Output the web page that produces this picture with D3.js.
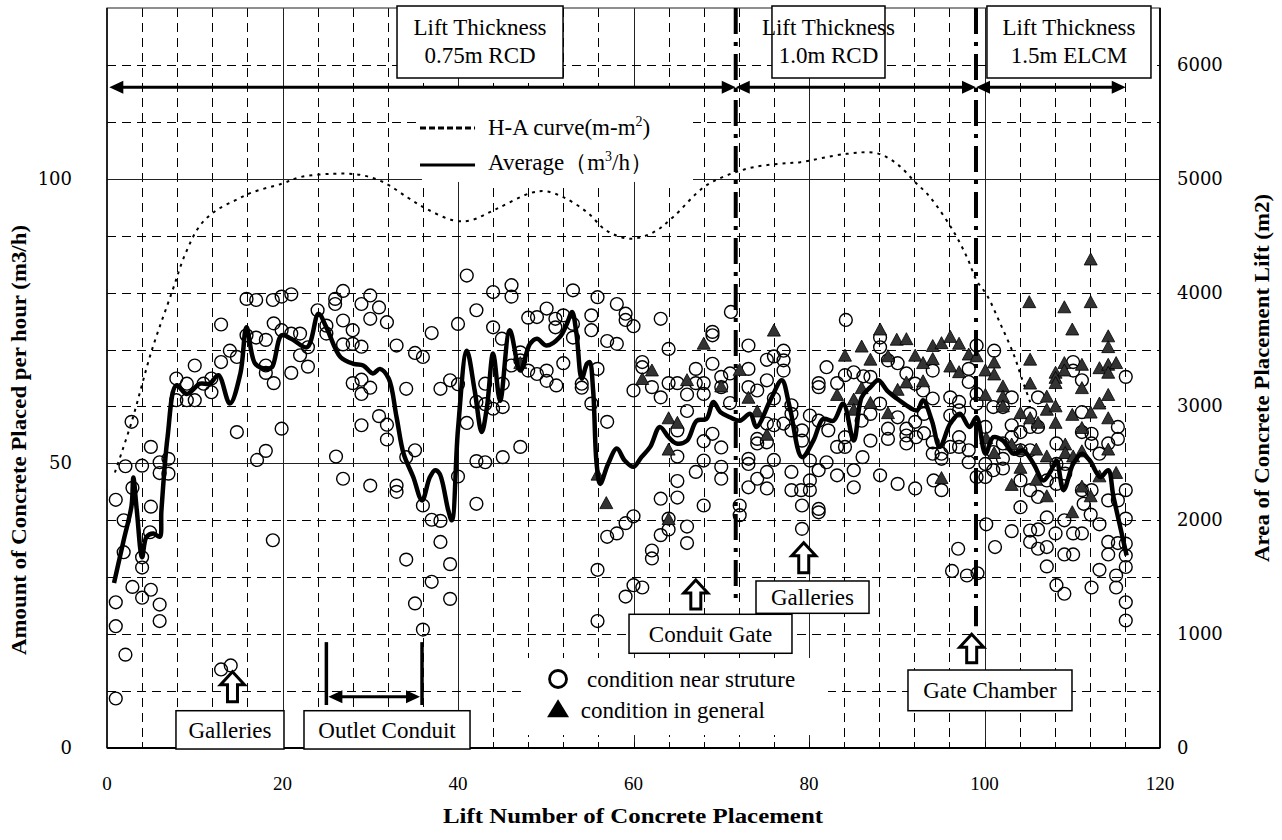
<!DOCTYPE html>
<html><head><meta charset="utf-8">
<script src="https://cdn.jsdelivr.net/npm/d3@7"></script>
<style>body{margin:0;background:#fff}svg{display:block}</style>
</head><body><svg id="c" width="1282" height="840"></svg>
<script>
// ---------- DATA ----------
const xTicks = [0, 20, 40, 60, 80, 100, 120];
const leftTicks = [0, 50, 100];
const rightTicks = [0, 1000, 2000, 3000, 4000, 5000, 6000];

// condition near structure (open circles)
const nearLift = [1.0,1.0,1.0,1.0,1.9,1.9,2.1,2.1,2.8,2.9,2.9,4.0,4.0,4.0,4.0,4.9,5.0,5.0,5.0,6.0,6.0,6.0,6.0,7.0,7.0,7.9,7.9,9.1,9.1,10.0,10.0,11.0,11.9,11.9,13.0,13.0,13.0,14.0,14.1,14.8,14.8,15.9,15.9,17.0,17.0,17.1,18.1,18.1,18.1,18.1,18.9,18.9,19.0,19.0,19.9,19.9,19.9,21.0,21.0,21.0,22.0,22.0,22.9,22.9,24.0,25.0,25.0,26.0,26.0,26.1,26.9,26.9,26.9,26.9,28.0,28.0,28.0,29.0,29.0,29.0,29.0,29.0,30.0,30.0,30.0,30.0,31.0,31.0,31.9,31.9,31.9,33.0,33.0,33.0,34.1,34.1,34.1,35.1,35.1,35.1,36.0,36.0,36.0,37.0,37.0,37.0,38.0,38.0,38.0,39.1,39.1,39.1,40.0,40.0,40.0,41.0,41.0,42.1,42.1,42.1,42.1,43.1,43.1,43.1,44.0,44.0,44.0,45.0,45.1,45.1,45.1,46.1,46.1,46.1,47.1,47.1,47.1,48.0,48.0,49.0,49.0,50.1,50.1,50.1,51.1,51.1,51.2,52.0,52.0,53.1,53.1,53.1,54.1,54.1,55.2,55.2,55.2,55.9,55.9,55.9,55.9,57.0,57.0,57.0,58.1,58.1,58.1,59.1,59.1,59.1,59.1,60.0,60.0,60.0,60.0,61.0,61.0,61.0,62.1,62.1,62.1,63.1,63.1,63.1,63.1,64.0,64.0,64.0,64.0,65.0,65.0,65.0,65.0,65.0,66.1,66.1,66.1,66.1,67.1,67.1,67.1,68.0,68.0,68.0,68.0,68.0,69.0,69.0,69.0,69.0,70.0,70.0,70.0,70.0,70.0,71.0,71.0,71.1,72.1,72.1,73.1,73.1,73.1,73.1,73.1,73.1,74.1,74.1,74.1,74.1,75.2,75.2,75.2,75.2,75.2,75.2,76.0,76.0,76.0,76.0,77.1,77.1,77.1,77.1,78.0,78.0,78.0,78.0,78.0,79.2,79.2,79.2,79.2,79.1,80.1,80.1,80.1,80.1,81.1,81.1,81.1,81.1,81.1,81.1,82.0,82.0,82.2,83.2,83.2,83.2,84.1,84.1,84.1,84.2,85.1,85.1,85.1,86.0,86.1,86.2,87.0,87.0,87.0,88.1,88.1,88.1,88.1,89.0,89.0,89.0,90.1,90.1,90.1,91.1,91.1,91.1,91.1,92.1,92.1,92.1,92.2,93.0,93.1,93.1,94.1,94.1,94.1,94.1,94.2,95.1,95.1,95.1,96.1,96.1,96.1,96.3,97.1,97.1,97.1,97.1,97.0,98.2,98.2,98.2,98.2,98.0,99.1,99.1,99.1,99.1,99.2,100.1,100.1,100.1,100.2,101.0,101.0,101.0,101.1,101.2,102.1,102.1,102.1,102.1,103.1,103.1,103.1,103.1,104.1,104.1,104.1,104.1,105.2,105.2,105.2,105.2,105.2,105.2,106.1,106.1,106.1,106.1,106.1,107.1,107.1,107.1,107.1,108.2,108.2,108.2,108.2,108.1,109.2,109.2,109.1,109.1,109.1,110.1,110.1,110.1,110.1,111.1,111.1,111.1,111.1,111.1,111.3,112.2,112.2,112.2,112.2,112.1,113.1,113.1,113.1,114.1,114.1,114.1,114.1,115.2,115.2,115.2,115.2,115.0,115.0,116.1,116.1,116.1,116.1,116.1,116.1,116.1,116.1];
const nearRate = [43.6,25.6,21.4,8.7,40.0,34.4,49.5,16.4,57.3,45.7,28.3,49.6,33.5,31.7,26.4,37.9,52.9,42.4,27.8,50.2,48.3,25.2,22.3,50.8,48.2,64.9,61.1,64.0,61.1,61.1,67.2,64.0,64.9,62.5,74.4,67.8,13.8,69.8,14.5,68.7,55.5,78.9,72.5,78.7,72.1,50.6,71.7,67.2,65.9,52.2,78.7,36.5,64.1,74.6,79.3,73.4,56.1,79.7,72.8,65.9,72.8,69.0,70.4,67.0,76.9,74.2,72.8,78.9,78.0,51.2,80.3,75.1,70.9,47.3,73.4,71.0,64.1,78.0,70.5,64.7,62.2,56.7,79.5,75.4,63.3,46.1,77.4,58.3,74.8,56.8,54.2,70.7,46.1,45.0,63.1,51.1,33.1,69.4,52.3,25.4,68.7,42.6,20.8,72.9,40.1,29.2,63.1,39.9,36.2,64.6,32.3,26.2,74.5,63.9,47.7,83.0,57.1,76.9,60.8,50.4,42.9,64.0,60.4,50.2,80.1,73.9,59.6,71.9,64.0,59.9,51.1,81.3,79.3,67.2,69.5,68.1,52.9,75.6,66.3,75.7,65.7,77.2,66.3,64.5,75.4,73.9,63.7,76.0,67.6,80.4,74.5,72.1,64.0,63.3,76.0,73.4,60.5,79.2,66.6,31.3,22.3,71.5,57.3,37.1,78.0,71.0,37.7,76.3,75.2,39.5,26.6,74.1,62.8,40.7,28.6,67.8,66.9,28.2,63.4,34.7,33.3,75.4,61.6,43.8,37.4,70.1,64.1,38.4,40.3,64.1,55.8,51.2,46.9,44.0,62.1,59.2,38.9,36.0,66.6,64.1,48.5,64.1,62.2,53.9,50.5,42.6,73.1,72.5,67.5,55.2,65.2,63.4,52.8,49.4,47.3,65.8,60.6,76.6,42.6,40.9,70.7,66.6,63.4,50.8,49.9,45.8,62.8,54.3,53.5,47.3,68.2,64.6,57.0,53.7,48.5,45.6,68.8,61.4,56.7,50.6,69.8,68.1,66.3,57.0,60.2,58.7,55.8,48.5,45.3,55.8,54.0,42.6,38.5,45.3,58.4,50.5,47.0,45.3,64.1,63.4,57.5,48.8,42.0,41.4,66.9,50.2,55.8,64.1,52.9,47.9,65.5,54.6,52.9,75.2,66.0,48.8,45.8,57.5,51.1,65.3,65.2,58.7,54.0,72.1,70.4,60.5,47.9,68.1,56.1,54.3,67.6,58.1,46.4,65.8,56.1,54.9,53.5,64.0,57.3,45.6,54.6,62.8,58.7,55.3,66.3,61.4,53.7,51.7,47.0,51.7,50.8,45.3,61.6,58.4,52.9,31.1,60.8,59.3,54.6,52.9,35.0,66.6,64.3,52.3,50.2,30.3,70.7,62.2,60.5,47.6,30.7,56.4,49.9,47.6,39.3,59.9,52.0,48.8,69.8,35.3,59.9,53.5,50.8,49.1,61.6,56.7,54.6,38.1,55.5,52.3,47.0,42.3,58.7,56.4,52.3,45.3,38.2,36.2,61.6,56.4,44.1,38.4,35.0,47.0,40.5,35.3,31.9,53.5,49.9,46.4,28.6,37.7,49.9,48.2,40.0,34.0,27.1,67.8,66.3,37.7,34.0,64.6,59.0,55.5,45.3,37.7,42.9,55.2,53.5,45.3,28.2,41.0,51.7,39.3,31.3,53.5,43.5,36.2,34.0,56.4,54.3,43.5,36.0,30.3,28.2,65.2,45.3,40.3,35.9,33.8,31.8,25.6,22.4];

// condition in general (filled triangles)
const genLift = [47.1,55.9,56.9,61.0,62.1,64.0,64.0,64.0,65.0,66.1,68.0,70.0,72.1,73.1,74.1,75.2,76.0,83.2,84.1,85.1,85.1,86.0,86.0,87.0,87.0,88.1,89.0,89.0,90.0,90.1,91.1,91.1,92.1,93.0,93.0,94.1,94.1,95.1,95.1,96.1,96.1,97.1,97.1,98.2,99.1,100.1,100.1,100.2,101.1,101.1,101.1,102.1,102.1,102.1,103.1,103.1,104.1,104.1,104.1,105.1,105.2,105.2,105.2,105.9,105.9,106.1,107.1,107.1,107.1,107.1,108.1,108.1,108.1,108.1,108.1,109.1,109.1,109.1,109.2,109.2,110.0,110.0,110.0,110.1,111.1,111.1,111.1,111.1,111.1,112.1,112.1,112.1,112.1,113.1,113.1,113.1,114.1,114.1,114.1,114.1,114.1,114.1,114.1,115.0,115.0];
const genRate = [67.5,47.9,42.9,64.7,66.2,57.8,52.3,40.1,57.0,64.5,70.9,63.4,66.3,61.4,59.0,54.9,73.2,61.9,68.8,61.1,59.3,70.4,63.1,68.1,60.5,73.4,68.7,58.7,71.6,62.8,71.7,64.1,68.8,67.5,64.3,70.5,68.2,71.0,47.3,72.1,66.9,70.9,65.9,69.0,68.7,66.2,61.9,54.3,67.6,65.5,51.7,63.4,61.6,59.9,53.2,46.1,58.7,52.3,49.1,78.2,68.1,63.9,57.8,52.3,47.0,57.0,61.6,59.3,51.1,44.1,65.8,64.9,64.0,59.9,57.0,77.3,67.5,66.2,53.2,51.7,73.4,58.4,41.3,51.1,67.2,63.1,56.1,52.0,45.8,85.7,78.2,58.8,44.1,66.6,60.4,47.6,72.2,70.3,67.2,65.8,61.9,57.8,52.3,67.5,48.2];

// Average (m3/h)
const avgLift = [0.8,1.9,2.8,3.0,3.4,4.0,4.5,5.3,6.0,6.2,6.9,7.9,9.1,10.6,11.7,12.7,14.0,15.2,15.9,16.9,18.2,18.8,19.9,21.0,22.8,24.1,25.0,26.6,28.1,29.2,30.3,31.1,32.1,33.0,33.8,34.9,35.9,36.8,37.4,37.9,38.9,39.3,40.0,41.0,41.9,42.7,43.3,44.0,44.8,45.9,47.1,48.2,49.0,50.1,51.6,52.4,53.0,53.5,54.1,54.7,55.0,55.4,55.8,56.2,57.1,58.1,59.0,60.0,60.9,61.9,63.0,64.0,64.9,66.1,67.2,68.3,69.1,69.9,71.0,72.1,73.3,74.0,75.6,76.9,77.8,79.2,80.5,81.6,82.8,83.9,85.1,86.0,87.0,87.9,88.9,90.0,91.1,92.3,93.0,94.0,94.9,96.1,97.2,98.3,99.1,100.1,101.0,102.1,103.3,104.4,105.6,106.7,107.6,108.2,109.0,110.1,111.1,112.0,113.2,114.1,114.7,116.2];
const avgRate = [29.0,36.5,42.6,47.5,41.7,33.5,37.1,37.7,37.1,41.7,54.6,63.7,62.2,64.0,64.0,65.5,60.5,65.8,73.9,67.5,66.6,66.9,72.5,71.9,70.4,76.3,73.9,68.7,67.5,67.2,65.8,66.6,64.9,58.1,51.7,47.6,43.5,47.6,48.8,48.2,41.7,40.0,56.0,69.8,62.8,55.5,59.9,69.3,61.0,73.4,66.3,71.0,71.9,70.7,72.2,74.5,76.6,72.8,64.9,67.5,67.8,62.8,49.9,46.4,49.9,52.6,50.5,49.4,51.1,52.9,56.4,54.6,53.5,54.0,57.5,57.8,60.8,59.0,58.1,57.5,58.7,56.4,61.1,64.6,59.9,51.1,54.0,57.8,57.5,60.5,54.0,61.6,63.4,64.6,62.8,61.4,60.2,59.3,61.1,57.5,52.9,57.0,58.7,56.4,58.1,51.7,54.6,54.0,51.7,52.3,49.9,47.0,48.8,50.5,45.3,49.9,51.7,50.5,47.6,48.8,44.1,33.8];

// H-A curve (m-m2), right axis
const haLift = [0.9,2.8,5.1,7.4,8.9,10.6,12.4,14.6,16.6,19.9,22.0,25.8,28.8,31.5,34.2,36.4,39.5,41.4,44.4,48.2,49.9,52.0,54.7,56.9,59.6,62.3,64.5,68.0,70.6,73.7,77.5,79.0,84.3,87.7,90.0,92.1,93.8,96.4,98.0,99.1,100.3,101.8,103.3,104.2,105.2];
const haArea = [2420,2863,3492,4004,4335,4590,4720,4810,4882,4956,5014,5044,5035,4970,4838,4736,4634,4634,4736,4873,4891,4838,4707,4546,4473,4531,4663,4926,5029,5102,5137,5146,5219,5225,5132,4970,4838,4546,4311,4107,3975,3727,3463,3258,3038];

// annotation texts / positions (data units)
const sectionLabels = [["Lift Thickness","0.75m RCD"],["Lift Thickness","1.0m RCD"],["Lift Thickness","1.5m ELCM"]];
const sectionBoxX = [[33.05,51.97],[75.78,88.66],[100.28,118.97]];
const sectionArrowX = [[0.26,71.65],[71.65,99.03],[99.03,116.1]];
const dividerLift = [71.65, 99.03];
const dividerBottom = [25.7, 21.4];
const featureLabels = ["Galleries","Outlet Conduit","Conduit Gate","Galleries","Gate Chamber"];
const featureBoxX = [[7.86,20.17],[22.45,41.37],[59.49,78.06],[73.96,86.84],[91.28,109.97]];
const featureBoxY = [[6.55,-0.18],[6.55,-0.18],[23.49,16.64],[29.34,23.66],[13.70,6.55]];
const arrowLift = [14.3, 67.1, 79.4, 98.54];
const arrowTip = [13.4, 29.5, 36.07, 19.98];
const arrowBase = [8.13, 24.4, 30.8, 14.99];
const outletRange = [25.0, 35.9];

// ---------- CHART ----------
const svg = d3.select("#c");
const X0 = 107, X1 = 1160, Y0 = 748, Y1 = 8;
const x = d3.scaleLinear().domain([0,120]).range([X0,X1]);
const yL = d3.scaleLinear().domain([0,130]).range([Y0,Y1]);
const yR = d3.scaleLinear().domain([0,6500]).range([Y0,Y1]);
const serif = "'Liberation Serif','Times New Roman',serif";

// grid
const g = svg.append("g");
d3.range(4,120,4).forEach(v=>{
  const solid = v%20===0;
  g.append("line").attr("x1",Math.round(x(v))+0.5).attr("x2",Math.round(x(v))+0.5)
   .attr("y1",Y1).attr("y2",Y0).attr("stroke",solid?"#222":"#000").attr("stroke-width",1)
   .attr("stroke-dasharray",solid?null:"9,6");
});
d3.range(10,130,10).forEach(v=>{
  const solid = v%50===0;
  g.append("line").attr("y1",Math.round(yL(v))+0.5).attr("y2",Math.round(yL(v))+0.5)
   .attr("x1",X0).attr("x2",X1).attr("stroke",solid?"#222":"#000").attr("stroke-width",1)
   .attr("stroke-dasharray",solid?null:"9,6");
});
d3.range(4,120,4).forEach(v=>{
  g.append("line").attr("x1",Math.round(x(v))+0.5).attr("x2",Math.round(x(v))+0.5)
   .attr("y1",Y0).attr("y2",Y0-6).attr("stroke","#000");
});

// frame
svg.append("rect").attr("x",X0).attr("y",Y1).attr("width",X1-X0).attr("height",Y0-Y1)
  .attr("fill","none").attr("stroke","#444").attr("stroke-width",1.2);
svg.append("line").attr("x1",X0).attr("x2",X1).attr("y1",Y0).attr("y2",Y0).attr("stroke","#000").attr("stroke-width",1.8);
svg.append("line").attr("x1",X1).attr("x2",X1).attr("y1",Y1).attr("y2",Y0).attr("stroke","#000").attr("stroke-width",1.8);
svg.append("line").attr("x1",X0).attr("x2",X0).attr("y1",Y1).attr("y2",Y0).attr("stroke","#000").attr("stroke-width",1.5);

// white legend panels (cover grid)
svg.append("rect").attr("x",x(35.9)).attr("y",yL(115.95)).attr("width",x(66.78)-x(35.9)).attr("height",yL(99.44)-yL(115.95)).attr("fill","#fff");
svg.append("rect").attr("x",x(47.86)).attr("y",yL(15.81)).attr("width",x(82.17)-x(47.86)).attr("height",yL(2.28)-yL(15.81)).attr("fill","#fff");

// H-A curve
svg.append("path").datum(haLift.map((d,i)=>[d,haArea[i]]))
  .attr("d",d3.line().x(d=>x(d[0])).y(d=>yR(d[1])).curve(d3.curveCatmullRom))
  .attr("fill","none").attr("stroke","#000").attr("stroke-width",2).attr("stroke-dasharray","3,5");

// circles
svg.append("g").selectAll("circle").data(nearLift.map((d,i)=>[d,nearRate[i]])).join("circle")
  .attr("cx",d=>x(d[0])).attr("cy",d=>yL(d[1])).attr("r",6.4)
  .attr("fill","none").attr("stroke","#000").attr("stroke-width",1.4);

// triangles
const tri = (cx,cy,w,h)=>`M${cx},${cy-h*0.6}L${cx+w/2},${cy+h*0.4}L${cx-w/2},${cy+h*0.4}Z`;
svg.append("g").selectAll("path").data(genLift.map((d,i)=>[d,genRate[i]])).join("path")
  .attr("d",d=>tri(x(d[0]),yL(d[1]),13,12)).attr("fill","#333").attr("stroke","#000").attr("stroke-width",0.8);

// average line
svg.append("path").datum(avgLift.map((d,i)=>[d,avgRate[i]]))
  .attr("d",d3.line().x(d=>x(d[0])).y(d=>yL(d[1])).curve(d3.curveCatmullRom))
  .attr("fill","none").attr("stroke","#000").attr("stroke-width",4.5).attr("stroke-linejoin","round");

// dividers (dash-dot)
dividerLift.forEach((v,i)=>{
  svg.append("line").attr("x1",x(v)).attr("x2",x(v)).attr("y1",Y1).attr("y2",yL(dividerBottom[i]))
    .attr("stroke","#000").attr("stroke-width",4).attr("stroke-dasharray","26,8,4,8");
});

// section boxes
sectionBoxX.forEach((b,i)=>{
  const bx = x(b[0]), bw = x(b[1])-x(b[0]);
  svg.append("rect").attr("x",bx).attr("y",6).attr("width",bw).attr("height",72)
    .attr("fill","#fff").attr("stroke","#000").attr("stroke-width",1.5);
  svg.append("text").attr("x",bx+bw/2).attr("y",35).attr("text-anchor","middle")
    .attr("font-family",serif).attr("font-size",23).text(sectionLabels[i][0]);
  svg.append("text").attr("x",bx+bw/2).attr("y",63).attr("text-anchor","middle")
    .attr("font-family",serif).attr("font-size",23).text(sectionLabels[i][1]);
});

// section arrows
const arrowY = yL(116.07);
function hArrow(xa, xb, yy){
  svg.append("line").attr("x1",xa+10).attr("x2",xb-12).attr("y1",yy).attr("y2",yy)
    .attr("stroke","#000").attr("stroke-width",3);
  svg.append("path").attr("d",`M${xb},${yy}L${xb-14},${yy-6.5}L${xb-14},${yy+6.5}Z`).attr("fill","#000");
  svg.append("path").attr("d",`M${xa},${yy}L${xa+14},${yy-6.5}L${xa+14},${yy+6.5}Z`).attr("fill","#000");
}
sectionArrowX.forEach(a=>hArrow(x(a[0]),x(a[1]),arrowY));

// outlet conduit bracket
outletRange.forEach(v=>{
  svg.append("line").attr("x1",x(v)).attr("x2",x(v)).attr("y1",yL(18.6)).attr("y2",yL(7.55))
    .attr("stroke","#000").attr("stroke-width",3.5);
});
hArrow(x(outletRange[0])+2,x(outletRange[1])-2,yL(9.0));

// hollow up arrows
arrowLift.forEach((v,i)=>{
  const cx = x(v), ty = yL(arrowTip[i]), by = yL(arrowBase[i]);
  const hh = 13, hw = 12, sw = 5;
  svg.append("path").attr("d",`M${cx},${ty}L${cx+hw},${ty+hh}L${cx+sw},${ty+hh}L${cx+sw},${by}L${cx-sw},${by}L${cx-sw},${ty+hh}L${cx-hw},${ty+hh}Z`)
    .attr("fill","#fff").attr("stroke","#000").attr("stroke-width",3).attr("stroke-linejoin","miter");
});

// feature boxes
featureBoxX.forEach((b,i)=>{
  const bx = x(b[0]), bw = x(b[1])-x(b[0]);
  const by = yL(featureBoxY[i][0]), bh = yL(featureBoxY[i][1])-by;
  svg.append("rect").attr("x",bx).attr("y",by).attr("width",bw).attr("height",bh)
    .attr("fill","#fff").attr("stroke","#000").attr("stroke-width",1.5);
  svg.append("text").attr("x",bx+bw/2).attr("y",by+bh/2+8).attr("text-anchor","middle")
    .attr("font-family",serif).attr("font-size",23).text(featureLabels[i]);
});

// legend 1 (lines)
const l1y = yL(108.9), l2y = yL(102.4);
svg.append("line").attr("x1",x(35.67)).attr("x2",x(41.94)).attr("y1",l1y).attr("y2",l1y)
  .attr("stroke","#000").attr("stroke-width",3).attr("stroke-dasharray","6,3");
svg.append("line").attr("x1",x(35.67)).attr("x2",x(41.94)).attr("y1",l2y).attr("y2",l2y)
  .attr("stroke","#000").attr("stroke-width",3);
const t1 = svg.append("text").attr("x",x(43.42)).attr("y",l1y+7).attr("font-family",serif).attr("font-size",23);
t1.append("tspan").text("H-A curve(m-m");
t1.append("tspan").attr("font-size",14).attr("dy",-9).text("2");
t1.append("tspan").attr("dy",9).text(")");
const t2 = svg.append("text").attr("x",x(43.42)).attr("y",l2y+5).attr("font-family",serif).attr("font-size",23);
t2.append("tspan").text("Average\uFF08m");
t2.append("tspan").attr("font-size",14).attr("dy",-9).text("3");
t2.append("tspan").attr("dy",9).text("/h\uFF09");

// legend 2 (markers)
const m1y = yL(12.12), m2y = yL(6.68), mx = x(51.4);
svg.append("circle").attr("cx",mx).attr("cy",m1y).attr("r",8.5).attr("fill","none").attr("stroke","#000").attr("stroke-width",2.8);
svg.append("path").attr("d",tri(mx,m2y,22,18)).attr("fill","#000");
svg.append("text").attr("x",x(54.7)).attr("y",m1y+8).attr("font-family",serif).attr("font-size",23).text("condition near struture");
svg.append("text").attr("x",x(54.0)).attr("y",m2y+8).attr("font-family",serif).attr("font-size",23).text("condition in general");

// axes labels
xTicks.forEach(v=>{
  svg.append("text").attr("x",x(v)).attr("y",790).attr("text-anchor","middle")
    .attr("font-family",serif).attr("font-size",19).text(v);
});
leftTicks.forEach(v=>{
  svg.append("text").attr("x",72).attr("y",yL(v)+6).attr("text-anchor","end")
    .attr("font-family","'DejaVu Serif',serif").attr("font-size",18).text(v);
});
rightTicks.forEach(v=>{
  svg.append("text").attr("x",1177).attr("y",yR(v)+6).attr("text-anchor","start")
    .attr("font-family","'DejaVu Serif',serif").attr("font-size",18).text(v);
});

// axis titles
svg.append("text").attr("x",633).attr("y",823).attr("text-anchor","middle")
  .attr("font-family",serif).attr("font-weight","bold").attr("font-size",20)
  .attr("textLength",380).attr("lengthAdjust","spacingAndGlyphs").text("Lift Number of Concrete Placement");
svg.append("text").attr("transform","translate(26,440) rotate(-90)").attr("text-anchor","middle")
  .attr("font-family",serif).attr("font-weight","bold").attr("font-size",20)
  .attr("textLength",430).attr("lengthAdjust","spacingAndGlyphs").text("Amount of Concrete Placed per hour (m3/h)");
svg.append("text").attr("transform","translate(1269,378) rotate(-90)").attr("text-anchor","middle")
  .attr("font-family",serif).attr("font-weight","bold").attr("font-size",20)
  .attr("textLength",368).attr("lengthAdjust","spacingAndGlyphs").text("Area of Concrete Placement Lift (m2)");
</script></body></html>
